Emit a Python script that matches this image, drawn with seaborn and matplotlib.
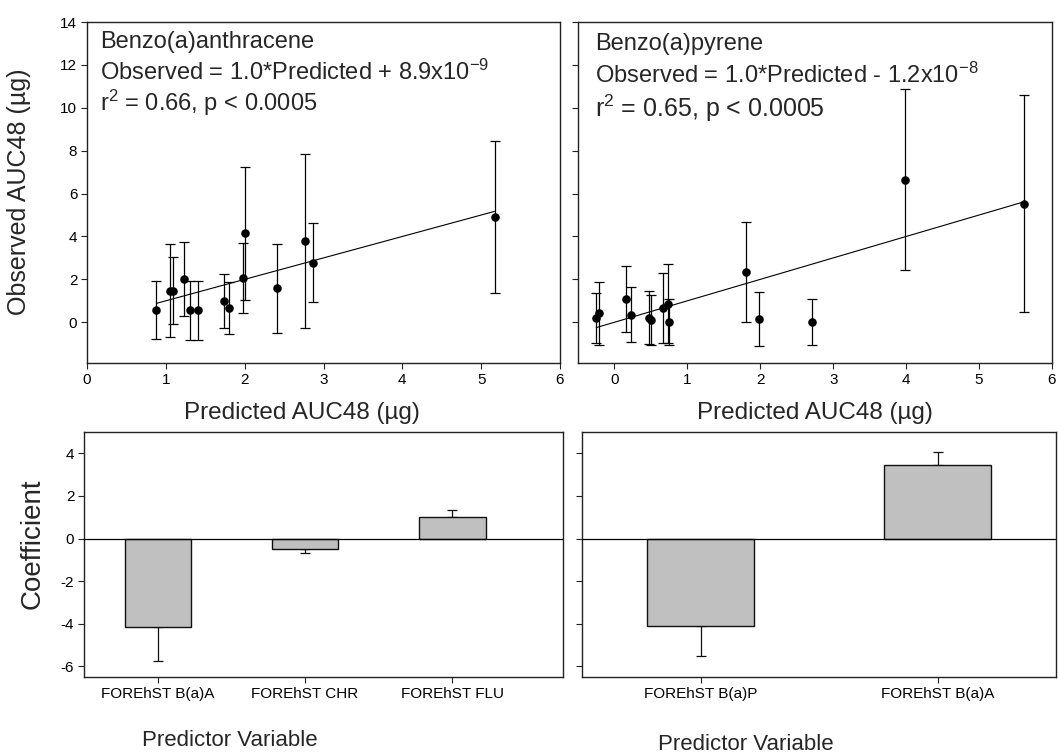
import numpy as np
import pandas as pd
import matplotlib
matplotlib.use("Agg")
import matplotlib.pyplot as plt
import seaborn as sns

# ---------------- data ----------------
baa_pred = [0.88, 1.05, 1.09, 1.23, 1.31, 1.41, 1.74, 1.80, 1.98, 2.00, 2.41, 2.77, 2.87, 5.17]
baa_obs = [0.56, 1.47, 1.46, 2.01, 0.56, 0.56, 0.99, 0.65, 2.06, 4.15, 1.58, 3.77, 2.78, 4.92]
baa_err = [1.36, 2.17, 1.56, 1.74, 1.37, 1.38, 1.24, 1.21, 1.63, 3.10, 2.07, 4.06, 1.85, 3.54]
baa_slope, baa_int = 1.0, 8.9e-9

bap_pred = [-0.25, -0.21, 0.16, 0.23, 0.48, 0.50, 0.67, 0.73, 0.75, 1.81, 1.98, 2.71, 3.98, 5.61]
bap_obs = [0.19, 0.42, 1.08, 0.36, 0.22, 0.12, 0.65, 0.87, 0.03, 2.33, 0.15, 0.01, 6.65, 5.53]
bap_err = [1.16, 1.47, 1.52, 1.30, 1.23, 1.16, 1.64, 1.85, 1.07, 2.34, 1.25, 1.06, 4.22, 5.07]
bap_slope, bap_int = 1.0, -1.2e-8

coef1_vars = ["FOREhST B(a)A", "FOREhST CHR", "FOREhST FLU"]
coef1_vals = [-4.14, -0.47, 1.02]
coef1_err = [1.63, 0.23, 0.33]

coef2_vars = ["FOREhST B(a)P", "FOREhST B(a)A"]
coef2_vals = [-4.10, 3.44]
coef2_err = [1.40, 0.61]

# ---------------- style ----------------
sns.set_style("ticks")
plt.rcParams["font.family"] = ["Liberation Sans", "DejaVu Sans"]
plt.rcParams["mathtext.fontset"] = "custom"
plt.rcParams["mathtext.rm"] = "Liberation Sans"
plt.rcParams["mathtext.it"] = "Liberation Sans:italic"
plt.rcParams["mathtext.default"] = "regular"
plt.rcParams["axes.unicode_minus"] = False

W, H = 1058, 754
fig = plt.figure(figsize=(W / 100, H / 100), dpi=100)


def add_ax(l, t, r, b):
    return fig.add_axes([l / W, 1 - b / H, (r - l) / W, (b - t) / H])


ax1 = add_ax(87, 22, 560, 363)
ax2 = add_ax(578, 22, 1052, 363)
ax3 = add_ax(84, 432, 563, 677)
ax4 = add_ax(582, 432, 1056, 677)


def style_ax(ax):
    for s in ax.spines.values():
        s.set_visible(True)
        s.set_linewidth(1.0)
        s.set_color("#222222")
    ax.tick_params(direction="out", length=4, width=0.8, color="#222222",
                   labelcolor="black", labelsize=11, pad=3)
    ax.set_xlabel("")
    ax.set_ylabel("")


def scatter_panel(ax, pred, obs, err, slope, intercept):
    df = pd.DataFrame({"pred": pred, "obs": obs})
    ax.errorbar(df["pred"], df["obs"], yerr=err, fmt="none", ecolor="black",
                elinewidth=0.9, capsize=3.6, capthick=0.9, zorder=2)
    xs = np.array([df["pred"].min(), df["pred"].max()])
    line = pd.DataFrame({"x": xs, "y": slope * xs + intercept})
    sns.lineplot(data=line, x="x", y="y", ax=ax, color="black", lw=0.8, zorder=2)
    sns.scatterplot(data=df, x="pred", y="obs", ax=ax, color="black", s=38,
                    edgecolor="black", linewidth=0, zorder=3)
    ax.set_ylim(-1.9, 14)
    ax.set_yticks(np.arange(0, 15, 2))
    ax.set_xticks(np.arange(0, 7, 1))
    style_ax(ax)


scatter_panel(ax1, baa_pred, baa_obs, baa_err, baa_slope, baa_int)
ax1.set_xlim(0, 6)
scatter_panel(ax2, bap_pred, bap_obs, bap_err, bap_slope, bap_int)
ax2.set_xlim(-0.5, 6)
ax2.tick_params(labelleft=False)

tfs = 17
ax1.text(0.028, 0.924, "Benzo(a)anthracene", transform=ax1.transAxes, fontsize=tfs, va="baseline")
ax1.text(0.028, 0.830, r"Observed = 1.0*Predicted + 8.9x10$^{\mathregular{-9}}$", transform=ax1.transAxes,
         fontsize=tfs, va="baseline")
ax1.text(0.028, 0.740, r"r$^{\mathregular{2}}$ = 0.66, p < 0.0005", transform=ax1.transAxes,
         fontsize=tfs, va="baseline")

ax2.text(0.036, 0.918, "Benzo(a)pyrene", transform=ax2.transAxes, fontsize=tfs, va="baseline")
ax2.text(0.036, 0.822, r"Observed = 1.0*Predicted - 1.2x10$^{\mathregular{-8}}$", transform=ax2.transAxes,
         fontsize=tfs, va="baseline")
ax2.text(0.036, 0.720, r"r$^{\mathregular{2}}$ = 0.65, p < 0.0005", transform=ax2.transAxes,
         fontsize=tfs + 1, va="baseline")


def bar_panel(ax, names, vals, errs):
    df = pd.DataFrame({"var": names, "coef": vals})
    sns.barplot(data=df, x="var", y="coef", ax=ax, color="#c0c0c0", width=0.45,
                edgecolor="#111111", linewidth=1.0, errorbar=None, saturation=1, zorder=3)
    lo = [e if v < 0 else 0 for v, e in zip(vals, errs)]
    hi = [e if v >= 0 else 0 for v, e in zip(vals, errs)]
    ax.errorbar(np.arange(len(names)), vals, yerr=[lo, hi], fmt="none", ecolor="#111111",
                elinewidth=0.9, capsize=3.3, capthick=0.9, zorder=2)
    ax.axhline(0, color="black", lw=0.9, zorder=4)
    ax.set_ylim(-6.5, 5)
    ax.set_yticks(np.arange(-6, 5, 2))
    style_ax(ax)
    ax.tick_params(axis="x", labelsize=11)


bar_panel(ax3, coef1_vars, coef1_vals, coef1_err)
ax3.set_xlim(-0.5, 2.75)
bar_panel(ax4, coef2_vars, coef2_vals, coef2_err)
ax4.set_xlim(-0.5, 1.5)
ax4.tick_params(labelleft=False)

fig.text(19 / W, 1 - 192 / H, "Observed AUC48 (µg)", rotation=90, ha="center", va="center", fontsize=18)
fig.text(302 / W, 1 - 413 / H, "Predicted AUC48 (µg)", ha="center", va="center", fontsize=17.5)
fig.text(815 / W, 1 - 413 / H, "Predicted AUC48 (µg)", ha="center", va="center", fontsize=17.5)
fig.text(33 / W, 1 - 544 / H, "Coefficient", rotation=90, ha="center", va="center", fontsize=20)
fig.text(230 / W, 1 - 740 / H, "Predictor Variable", ha="center", va="center", fontsize=16)
fig.text(746 / W, 1 - 745 / H, "Predictor Variable", ha="center", va="center", fontsize=16)

fig.savefig("out.png", dpi=100)
